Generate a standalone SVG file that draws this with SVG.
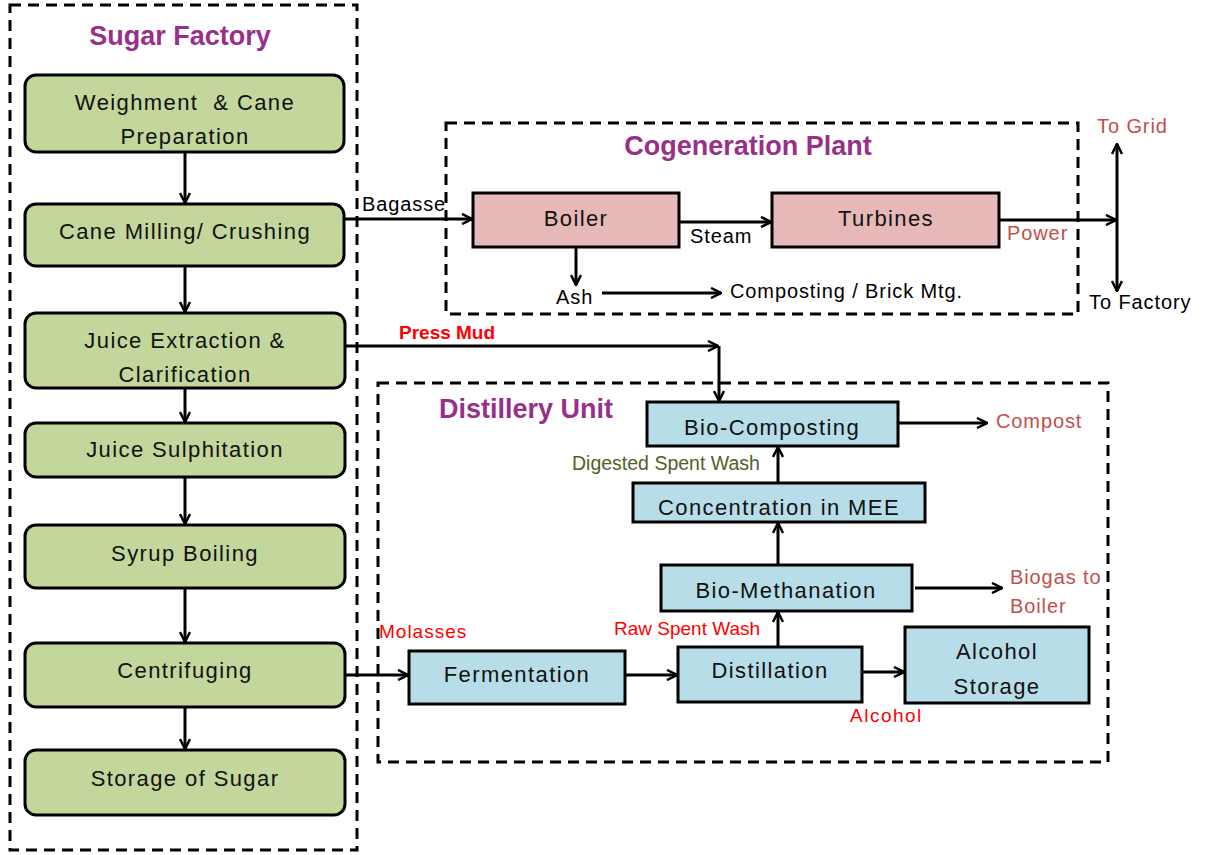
<svg xmlns="http://www.w3.org/2000/svg" width="1206" height="855" viewBox="0 0 1206 855">
  <style>
    .frame { fill: none; stroke: #000; stroke-width: 3; stroke-dasharray: 11 7; }
    .title { font-family: "Liberation Sans", Arial, sans-serif; font-weight: bold; font-size: 27px; fill: #983089; text-anchor: middle; }
    .sugar { fill: #C3D69B; stroke: #000; stroke-width: 3; }
    .cogen { fill: #E6B9B8; stroke: #000; stroke-width: 3; }
    .dist { fill: #B7DDE8; stroke: #000; stroke-width: 3; }
    .lbl { font-family: "Liberation Sans", Arial, sans-serif; font-size: 22px; letter-spacing: 1.4px; fill: #111; text-anchor: middle; white-space: pre; }
    .edge { fill: none; stroke: #000; stroke-width: 3; }
    .note { font-family: "Liberation Sans", Arial, sans-serif; font-size: 20px; letter-spacing: 0.9px; fill: #000; }
    .rust { fill: #C0504D; }
    .red { font-family: "Liberation Sans", Arial, sans-serif; font-size: 19px; fill: #FF0000; }
    .olive { font-family: "Liberation Sans", Arial, sans-serif; font-size: 19.5px; fill: #4F6228; }
  </style>
  <defs>
    <marker id="arr" viewBox="0 0 12 12" refX="11" refY="6" markerWidth="12" markerHeight="12" markerUnits="userSpaceOnUse" orient="auto">
      <path d="M1,1 L11,6 L1,11" fill="none" stroke="#000" stroke-width="2.5"/>
    </marker>
  </defs>

  <rect width="1206" height="855" fill="#fff"/>

  <!-- section frames -->
  <g id="frames">
    <rect class="frame" x="10" y="5" width="347" height="845"/>
    <rect class="frame" x="446" y="123" width="632" height="191"/>
    <rect class="frame" x="378" y="383" width="730" height="379"/>
    <text class="title" x="180" y="45">Sugar Factory</text>
    <text class="title" x="748" y="155">Cogeneration Plant</text>
    <text class="title" x="526" y="418">Distillery Unit</text>
  </g>

  <!-- sugar factory chain -->
  <g id="weighment">
    <rect class="sugar" x="25" y="75" width="319" height="77" rx="11"/>
    <text class="lbl" x="185" y="110" xml:space="preserve">Weighment  &amp; Cane</text>
    <text class="lbl" x="185" y="144">Preparation</text>
  </g>
  <g id="milling">
    <rect class="sugar" x="25" y="204" width="319" height="62" rx="11"/>
    <text class="lbl" x="185" y="239">Cane Milling/ Crushing</text>
  </g>
  <g id="extraction">
    <rect class="sugar" x="25" y="313" width="320" height="75" rx="11"/>
    <text class="lbl" x="185" y="348">Juice Extraction &amp;</text>
    <text class="lbl" x="185" y="382">Clarification</text>
  </g>
  <g id="sulphitation">
    <rect class="sugar" x="25" y="423" width="320" height="54" rx="11"/>
    <text class="lbl" x="185" y="457">Juice Sulphitation</text>
  </g>
  <g id="syrup">
    <rect class="sugar" x="25" y="525" width="320" height="63" rx="11"/>
    <text class="lbl" x="185" y="561">Syrup Boiling</text>
  </g>
  <g id="centrifuging">
    <rect class="sugar" x="25" y="643" width="320" height="64" rx="11"/>
    <text class="lbl" x="185" y="678">Centrifuging</text>
  </g>
  <g id="storage-sugar">
    <rect class="sugar" x="25" y="750" width="320" height="65" rx="11"/>
    <text class="lbl" x="185" y="786">Storage of Sugar</text>
  </g>

  <!-- cogeneration -->
  <g id="boiler">
    <rect class="cogen" x="473" y="193" width="206" height="54"/>
    <text class="lbl" x="576" y="226">Boiler</text>
  </g>
  <g id="turbines">
    <rect class="cogen" x="772" y="193" width="227" height="54"/>
    <text class="lbl" x="886" y="226">Turbines</text>
  </g>

  <!-- distillery -->
  <g id="fermentation">
    <rect class="dist" x="409" y="651" width="216" height="53"/>
    <text class="lbl" x="517" y="682">Fermentation</text>
  </g>
  <g id="distillation">
    <rect class="dist" x="678" y="647" width="184" height="55"/>
    <text class="lbl" x="770" y="678">Distillation</text>
  </g>
  <g id="alcohol-storage">
    <rect class="dist" x="905" y="627" width="184" height="76"/>
    <text class="lbl" x="997" y="659">Alcohol</text>
    <text class="lbl" x="997" y="694">Storage</text>
  </g>
  <g id="biomethanation">
    <rect class="dist" x="661" y="565" width="251" height="46"/>
    <text class="lbl" x="786" y="598">Bio-Methanation</text>
  </g>
  <g id="concentration">
    <rect class="dist" x="633" y="483" width="292" height="39"/>
    <text class="lbl" x="779" y="515">Concentration in MEE</text>
  </g>
  <g id="biocomposting">
    <rect class="dist" x="647" y="402" width="251" height="44"/>
    <text class="lbl" x="772" y="435">Bio-Composting</text>
  </g>

  <!-- connectors -->
  <g id="connectors">
    <line class="edge" x1="185" y1="152" x2="185" y2="203" marker-end="url(#arr)"/>
    <line class="edge" x1="185" y1="266" x2="185" y2="312" marker-end="url(#arr)"/>
    <line class="edge" x1="185" y1="388" x2="185" y2="422" marker-end="url(#arr)"/>
    <line class="edge" x1="185" y1="477" x2="185" y2="524" marker-end="url(#arr)"/>
    <line class="edge" x1="185" y1="588" x2="185" y2="642" marker-end="url(#arr)"/>
    <line class="edge" x1="185" y1="707" x2="185" y2="749" marker-end="url(#arr)"/>

    <line class="edge" x1="345" y1="219" x2="472" y2="219" marker-end="url(#arr)"/>
    <line class="edge" x1="679" y1="222" x2="771" y2="222" marker-end="url(#arr)"/>
    <line class="edge" x1="999" y1="220" x2="1116" y2="220" marker-end="url(#arr)"/>
    <line class="edge" x1="1117" y1="220" x2="1117" y2="144" marker-end="url(#arr)"/>
    <line class="edge" x1="1117" y1="220" x2="1117" y2="291" marker-end="url(#arr)"/>
    <line class="edge" x1="576" y1="247" x2="576" y2="285" marker-end="url(#arr)"/>
    <line class="edge" x1="602" y1="293" x2="721" y2="293" marker-end="url(#arr)"/>

    <line class="edge" x1="345" y1="346" x2="718" y2="346" marker-end="url(#arr)"/>
    <line class="edge" x1="719" y1="346" x2="719" y2="401" marker-end="url(#arr)"/>

    <line class="edge" x1="345" y1="675" x2="408" y2="675" marker-end="url(#arr)"/>
    <line class="edge" x1="625" y1="675" x2="677" y2="675" marker-end="url(#arr)"/>
    <line class="edge" x1="862" y1="672" x2="904" y2="672" marker-end="url(#arr)"/>
    <line class="edge" x1="778" y1="647" x2="778" y2="612" marker-end="url(#arr)"/>
    <line class="edge" x1="778" y1="565" x2="778" y2="523" marker-end="url(#arr)"/>
    <line class="edge" x1="778" y1="483" x2="778" y2="447" marker-end="url(#arr)"/>
    <line class="edge" x1="898" y1="423" x2="987" y2="423" marker-end="url(#arr)"/>
    <line class="edge" x1="915" y1="588" x2="1002" y2="588" marker-end="url(#arr)"/>
  </g>

  <!-- flow labels -->
  <g id="labels">
    <text class="note" x="362" y="211">Bagasse</text>
    <text class="note" x="690" y="243">Steam</text>
    <text class="note rust" x="1007" y="240">Power</text>
    <text class="note rust" x="1097" y="133">To Grid</text>
    <text class="note" x="1089" y="309">To Factory</text>
    <text class="note" x="556" y="304">Ash</text>
    <text class="note" x="730" y="298">Composting / Brick Mtg.</text>
    <text class="red" x="399" y="339" font-weight="bold" font-size="18">Press Mud</text>
    <text class="olive" x="572" y="470">Digested Spent Wash</text>
    <text class="note rust" x="996" y="428">Compost</text>
    <text class="note rust" x="1010" y="584">Biogas to</text>
    <text class="note rust" x="1010" y="613">Boiler</text>
    <text class="red" x="614" y="635" font-size="20">Raw Spent Wash</text>
    <text class="red" x="379" y="638" font-size="21" letter-spacing="1">Molasses</text>
    <text class="red" x="850" y="722" font-size="21" letter-spacing="1.5">Alcohol</text>
  </g>
</svg>
